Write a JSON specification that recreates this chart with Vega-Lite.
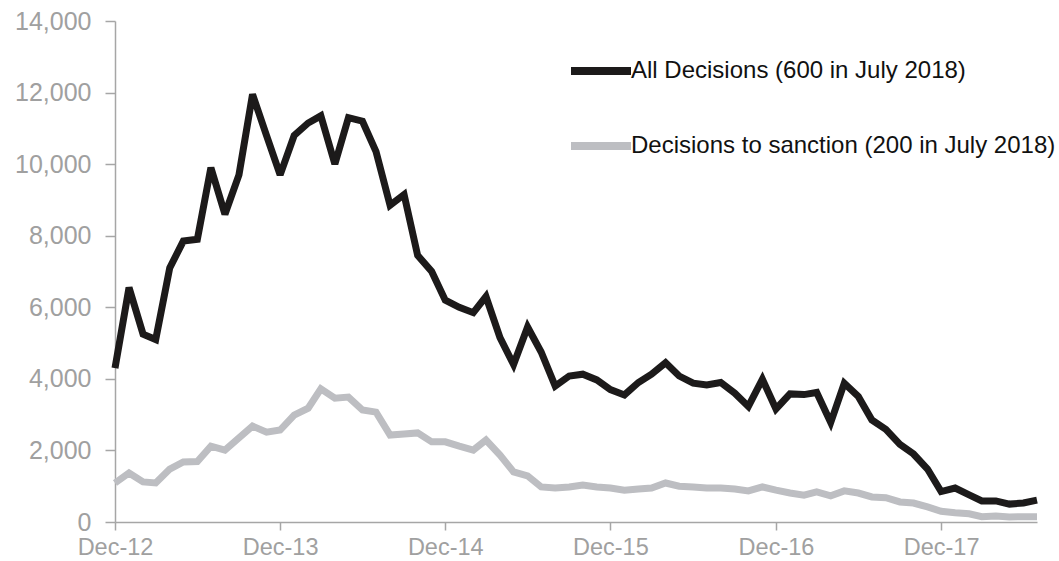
{
  "$schema": "https://vega.github.io/schema/vega-lite/v6.json",
  "autosize": "none",
  "width": 922,
  "height": 501,
  "padding": {"left": 115, "top": 21, "right": 22, "bottom": 39},
  "background": "white",
  "config": {
    "font": "Liberation Sans",
    "view": {"stroke": null}
  },
  "data": {
    "values": [
      {"date": "2012-12-01", "all": 4300, "sanction": 1090},
      {"date": "2013-01-01", "all": 6550, "sanction": 1370},
      {"date": "2013-02-01", "all": 5250, "sanction": 1120},
      {"date": "2013-03-01", "all": 5100, "sanction": 1090},
      {"date": "2013-04-01", "all": 7100, "sanction": 1480},
      {"date": "2013-05-01", "all": 7850, "sanction": 1680},
      {"date": "2013-06-01", "all": 7900, "sanction": 1690},
      {"date": "2013-07-01", "all": 9900, "sanction": 2120},
      {"date": "2013-08-01", "all": 8600, "sanction": 2010},
      {"date": "2013-09-01", "all": 9700, "sanction": 2350},
      {"date": "2013-10-01", "all": 11950, "sanction": 2680},
      {"date": "2013-11-01", "all": 10800, "sanction": 2510},
      {"date": "2013-12-01", "all": 9700, "sanction": 2570},
      {"date": "2014-01-01", "all": 10800, "sanction": 2990},
      {"date": "2014-02-01", "all": 11150, "sanction": 3180},
      {"date": "2014-03-01", "all": 11350, "sanction": 3720},
      {"date": "2014-04-01", "all": 10000, "sanction": 3460},
      {"date": "2014-05-01", "all": 11300, "sanction": 3490},
      {"date": "2014-06-01", "all": 11200, "sanction": 3130},
      {"date": "2014-07-01", "all": 10350, "sanction": 3070},
      {"date": "2014-08-01", "all": 8850, "sanction": 2430},
      {"date": "2014-09-01", "all": 9150, "sanction": 2460},
      {"date": "2014-10-01", "all": 7450, "sanction": 2490},
      {"date": "2014-11-01", "all": 7000, "sanction": 2240},
      {"date": "2014-12-01", "all": 6200, "sanction": 2240},
      {"date": "2015-01-01", "all": 6000, "sanction": 2120},
      {"date": "2015-02-01", "all": 5850, "sanction": 2010},
      {"date": "2015-03-01", "all": 6300, "sanction": 2290},
      {"date": "2015-04-01", "all": 5150, "sanction": 1870},
      {"date": "2015-05-01", "all": 4400, "sanction": 1400},
      {"date": "2015-06-01", "all": 5450, "sanction": 1290},
      {"date": "2015-07-01", "all": 4750, "sanction": 980},
      {"date": "2015-08-01", "all": 3800, "sanction": 950},
      {"date": "2015-09-01", "all": 4080, "sanction": 980},
      {"date": "2015-10-01", "all": 4130, "sanction": 1030},
      {"date": "2015-11-01", "all": 3970, "sanction": 980},
      {"date": "2015-12-01", "all": 3700, "sanction": 950},
      {"date": "2016-01-01", "all": 3550, "sanction": 890},
      {"date": "2016-02-01", "all": 3900, "sanction": 920},
      {"date": "2016-03-01", "all": 4130, "sanction": 950},
      {"date": "2016-04-01", "all": 4450, "sanction": 1090},
      {"date": "2016-05-01", "all": 4080, "sanction": 1000},
      {"date": "2016-06-01", "all": 3880, "sanction": 980},
      {"date": "2016-07-01", "all": 3830, "sanction": 950},
      {"date": "2016-08-01", "all": 3900, "sanction": 950},
      {"date": "2016-09-01", "all": 3600, "sanction": 920},
      {"date": "2016-10-01", "all": 3230, "sanction": 870},
      {"date": "2016-11-01", "all": 3990, "sanction": 980},
      {"date": "2016-12-01", "all": 3160, "sanction": 890},
      {"date": "2017-01-01", "all": 3580, "sanction": 810},
      {"date": "2017-02-01", "all": 3560, "sanction": 750},
      {"date": "2017-03-01", "all": 3620, "sanction": 840},
      {"date": "2017-04-01", "all": 2780, "sanction": 730},
      {"date": "2017-05-01", "all": 3880, "sanction": 870},
      {"date": "2017-06-01", "all": 3510, "sanction": 810},
      {"date": "2017-07-01", "all": 2850, "sanction": 700},
      {"date": "2017-08-01", "all": 2590, "sanction": 680},
      {"date": "2017-09-01", "all": 2170, "sanction": 560},
      {"date": "2017-10-01", "all": 1900, "sanction": 530},
      {"date": "2017-11-01", "all": 1480, "sanction": 420},
      {"date": "2017-12-01", "all": 850, "sanction": 300},
      {"date": "2018-01-01", "all": 950, "sanction": 260},
      {"date": "2018-02-01", "all": 760, "sanction": 230},
      {"date": "2018-03-01", "all": 590, "sanction": 150},
      {"date": "2018-04-01", "all": 590, "sanction": 170},
      {"date": "2018-05-01", "all": 500, "sanction": 140},
      {"date": "2018-06-01", "all": 530, "sanction": 150},
      {"date": "2018-07-01", "all": 610, "sanction": 150}
    ]
  },
  "transform": [
    {"fold": ["all", "sanction"], "as": ["key", "value"]},
    {"lookup": "key", "from": {"data": {"values": [
      {"key": "all", "series": "All Decisions (600 in July 2018)"},
      {"key": "sanction", "series": "Decisions to sanction (200 in July 2018)"}
    ]}, "key": "key", "fields": ["series"]}}
  ],
  "mark": {"type": "line", "strokeWidth": 7, "strokeJoin": "miter", "strokeMiterLimit": 3},
  "encoding": {
    "x": {
      "field": "date",
      "type": "temporal",
      "scale": {"type": "utc", "domain": ["2012-12-01", "2018-07-01"]},
      "axis": {
        "title": null,
        "values": ["2012-12-01", "2013-12-01", "2014-12-01", "2015-12-01", "2016-12-01", "2017-12-01"],
        "format": "%b-%y",
        "grid": false,
        "domainColor": "#a6a6a6",
        "domainWidth": 1.5,
        "tickColor": "#a6a6a6",
        "tickWidth": 1.5,
        "tickSize": 8,
        "labelColor": "#a0a0a0",
        "labelFont": "Liberation Sans",
        "labelFontSize": 23.5,
        "labelPadding": 5,
        "labelFlush": false,
        "labelOverlap": false
      }
    },
    "y": {
      "field": "value",
      "type": "quantitative",
      "scale": {"domain": [0, 14000], "nice": false},
      "axis": {
        "title": null,
        "values": [0, 2000, 4000, 6000, 8000, 10000, 12000, 14000],
        "format": ",.0f",
        "grid": false,
        "domainColor": "#a6a6a6",
        "domainWidth": 1.5,
        "tickColor": "#a6a6a6",
        "tickWidth": 1.5,
        "tickSize": 10,
        "labelColor": "#a0a0a0",
        "labelFont": "Liberation Sans",
        "labelFontSize": 25,
        "labelPadding": 14,
        "labelFlush": false
      }
    },
    "color": {
      "field": "series",
      "type": "nominal",
      "scale": {
        "domain": ["All Decisions (600 in July 2018)", "Decisions to sanction (200 in July 2018)"],
        "range": ["#1c1a1a", "#bdbec2"]
      },
      "legend": {
        "title": null,
        "orient": "none",
        "legendX": 452,
        "legendY": 16,
        "symbolType": "stroke",
        "symbolSize": 3600,
        "symbolStrokeWidth": 8,
        "labelFont": "Liberation Sans",
        "labelFontSize": 24,
        "labelColor": "#111111",
        "labelOffset": -4,
        "labelLimit": 600,
        "rowPadding": 25
      }
    }
  }
}
